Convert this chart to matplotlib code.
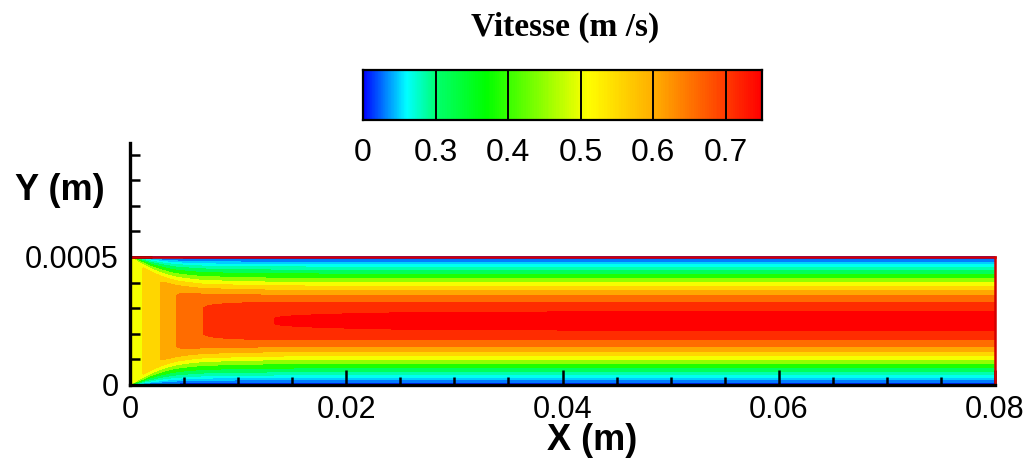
import numpy as np
import matplotlib
matplotlib.use('Agg')
import matplotlib.pyplot as plt
from matplotlib.colors import LinearSegmentedColormap, Normalize

plt.rcParams['font.family'] = ['Liberation Sans', 'DejaVu Sans']

# channel geometry (m) and inlet velocity (m/s)
channel_length = 0.08
channel_height = 0.0005
u_inlet = 0.5

# centreline velocity along the channel (m/s)
x_station = [0.0, 0.0012, 0.0028, 0.0043, 0.0068, 0.0134, 0.025, 0.04, 0.08]
u_center = [0.5, 0.53, 0.58, 0.63, 0.685, 0.735, 0.745, 0.75, 0.75]

# contour levels of the velocity field
levels = [0, 0.06, 0.12, 0.17, 0.22, 0.28, 0.35, 0.42, 0.48,
          0.53, 0.58, 0.63, 0.685, 0.735, 0.77]

cbar_ticks = [0, 0.3, 0.4, 0.5, 0.6, 0.7]
cbar_labels = ['0', '0.3', '0.4', '0.5', '0.6', '0.7']
x_ticks = [0, 0.02, 0.04, 0.06, 0.08]
x_labels = ['0', '0.02', '0.04', '0.06', '0.08']
y_ticks = [0, 0.0005]
y_labels = ['0', '0.0005']

# rainbow colour map, nodes given in m/s
vmax = 0.77
nodes = [(0.0, '#0000ff'), (0.18, '#00ffff'), (0.29, '#00ff80'),
         (0.37, '#00ff00'), (0.51, '#ffff00'), (0.61, '#ffa500'),
         (0.75, '#ff0000'), (0.77, '#ff0000')]
cmap = LinearSegmentedColormap.from_list('vitesse', [(v / vmax, c) for v, c in nodes])
norm = Normalize(0, vmax)

# developing flow: quadratic wall layers, core speed from the centreline
x = np.linspace(0, channel_length, 1601)
y = np.linspace(0, channel_height, 401)
X, Y = np.meshgrid(x, y)
uc = np.interp(x, x_station, u_center)
delta = 1.5 * channel_height * (1 - u_inlet / uc)
delta = np.clip(delta, 1e-8, channel_height / 2)
wall_dist = np.minimum(Y, channel_height - Y)
eta = np.minimum(wall_dist / delta[None, :], 1.0)
U = uc[None, :] * (2 * eta - eta ** 2)

W, H = 1031, 463
fig = plt.figure(figsize=(W / 100, H / 100), dpi=100)

ax = fig.add_axes([130 / W, 1 - 385 / H, 865 / W, 242 / H])
ax.contourf(X, Y, U, levels=levels, cmap=cmap, norm=norm, zorder=1)
ax.plot([0, channel_length], [channel_height, channel_height],
        color='#d40000', lw=1.8, clip_on=False, zorder=2)
ax.plot([channel_length, channel_length], [0, channel_height],
        color='#d40000', lw=1.8, clip_on=False, zorder=2)

ax.set_xlim(0, channel_length)
ax.set_ylim(0, 0.000945)
for side in ['top', 'right']:
    ax.spines[side].set_visible(False)
for side in ['left', 'bottom']:
    ax.spines[side].set_linewidth(2.4)
    ax.spines[side].set_zorder(3)

ax.set_xticks(x_ticks)
ax.set_xticklabels(x_labels)
ax.set_xticks(np.arange(0, 0.0801, 0.005), minor=True)
ax.set_yticks(y_ticks)
ax.set_yticklabels(y_labels)
ax.set_yticks(np.arange(0, 0.00095, 0.0001), minor=True)
ax.tick_params(axis='x', which='major', direction='in', length=11, width=1.8, pad=7, labelsize=22)
ax.tick_params(axis='x', which='minor', direction='in', length=6, width=1.8)
ax.tick_params(axis='y', which='major', direction='in', length=16, width=1.8, pad=8, labelsize=22)
ax.tick_params(axis='y', which='minor', direction='in', length=7, width=1.8)

fig.text(592 / W, 1 - 440 / H, 'X (m)', ha='center', va='center',
         fontsize=26, fontweight='bold')
fig.text(60 / W, 1 - 191 / H, 'Y (m)', ha='center', va='center',
         fontsize=26, fontweight='bold')
fig.text(565 / W, 1 - 27 / H, 'Vitesse (m /s)', ha='center', va='center',
         fontsize=24, fontweight='bold', family=['Liberation Serif', 'DejaVu Serif'])

# colour legend, compressed below 0.3
def fwd(v):
    v = np.asarray(v, dtype=float)
    return np.where(v < 0.3, 0.2 + v / 3, v)


def inv(t):
    t = np.asarray(t, dtype=float)
    return np.where(t < 0.3, (t - 0.2) * 3, t)


cax = fig.add_axes([363 / W, 1 - 120 / H, 399 / W, 50 / H])
cax.set_xscale('function', functions=(fwd, inv))
v_edges = np.linspace(0, 0.75, 600)
v_mid = 0.5 * (v_edges[:-1] + v_edges[1:])
cax.pcolormesh(v_edges, [0, 1], v_mid[None, :], cmap=cmap, norm=norm, shading='flat')
for t in cbar_ticks[1:]:
    cax.axvline(t, color='black', lw=1.4)
cax.set_xlim(0, 0.75)
cax.set_ylim(0, 1)
cax.set_yticks([])
cax.set_xticks(cbar_ticks)
cax.set_xticklabels(cbar_labels)
cax.xaxis.set_minor_locator(plt.NullLocator())
cax.tick_params(axis='x', length=0, pad=13, labelsize=23)
for s in cax.spines.values():
    s.set_linewidth(1.6)

fig.savefig('out.png', dpi=100)
